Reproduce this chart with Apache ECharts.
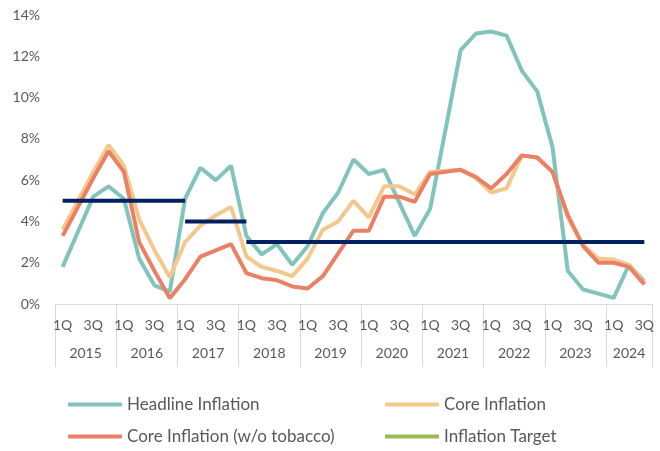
<!DOCTYPE html>
<html>
<head>
<meta charset="utf-8">
<script src="https://cdn.jsdelivr.net/npm/echarts@6/dist/echarts.min.js"></script>
<style>
  html, body { margin: 0; padding: 0; background: #fff; }
  #chart { width: 660px; height: 451px; }
</style>
</head>
<body>
<div id="chart"></div>
<script>
var years = ['2015','2016','2017','2018','2019','2020','2021','2022','2023','2024'];
var quarters = ['1Q','2Q','3Q','4Q'];
var quartersInYear = [4,4,4,4,4,4,4,4,4,3];

var headline = [1.8,3.5,5.2,5.7,5.1,2.2,0.9,0.6,5.1,6.6,6.0,6.7,
                3.3,2.4,2.9,1.9,2.8,4.4,5.4,7.0,6.3,6.5,4.9,3.3,
                4.6,8.4,12.3,13.1,13.2,13.0,11.3,10.3,7.6,1.6,0.7,0.5,
                0.3,1.9,1.1];
var core = [3.6,5.0,6.4,7.7,6.7,4.1,2.6,1.3,3.0,3.8,4.3,4.7,
            2.3,1.8,1.6,1.35,2.2,3.6,4.0,5.0,4.2,5.7,5.7,5.3,
            6.4,6.45,6.5,6.1,5.4,5.6,7.2,7.1,6.4,4.2,2.85,2.2,
            2.15,1.9,1.0];
var coreNoTobacco = [3.3,4.7,6.1,7.4,6.4,3.0,1.6,0.28,1.2,2.3,2.6,2.9,
                     1.5,1.25,1.15,0.85,0.75,1.35,2.45,3.55,3.55,5.2,5.2,4.95,
                     6.3,6.4,6.5,6.15,5.6,6.3,7.2,7.1,6.4,4.3,2.8,2.0,
                     2.0,1.8,0.95];
var target = [5,5,5,5,5,5,5,5,4,4,4,4,
              3,3,3,3,3,3,3,3,3,3,3,3,
              3,3,3,3,3,3,3,3,3,3,3,3,
              3,3,3];
var yTicks = [0,2,4,6,8,10,12,14];

// category labels
var categories = [];
years.forEach(function (y, k) {
  for (var q = 0; q < quartersInYear[k]; q++) categories.push(quarters[q]);
});
var yearStart = [];
var pos = 0;
quartersInYear.forEach(function (n) { yearStart.push(pos); pos += n; });

// target shown as flat segments, one per target level
var targetSeries = [];
var runStart = 0;
for (var i = 1; i <= target.length; i++) {
  if (i === target.length || target[i] !== target[runStart]) {
    var end = i === target.length ? i - 1 : i;
    var seg = target.map(function (v, j) { return (j >= runStart && j <= end) ? target[runStart] : null; });
    targetSeries.push({
      name: 'Inflation Target', type: 'line', data: seg, showSymbol: false,
      color: '#9BBB59', lineStyle: { color: '#002060', width: 4 }, z: 5
    });
    runStart = i;
  }
}

var gray = '#595959';
var font = 'Lato';

var myChart = echarts.init(document.getElementById('chart'));
myChart.setOption({
  animation: false,
  textStyle: { fontFamily: font },
  grid: { left: 55, right: 8, top: 15, bottom: 147 },
  legend: [
    { left: 68, top: 396, data: [{ name: 'Headline Inflation' }] },
    { left: 385, top: 396, data: [{ name: 'Core Inflation' }] },
    { left: 68, top: 428, data: [{ name: 'Core Inflation (w/o tobacco)' }] },
    { left: 385, top: 428, data: [{ name: 'Inflation Target', itemStyle: { color: '#9BBB59' } }] }
  ].map(function (l) {
    l.icon = 'roundRect';
    l.padding = 0;
    l.itemWidth = 54;
    l.itemHeight = 4;
    l.textStyle = { color: gray, fontSize: 17, fontFamily: font };
    return l;
  }),
  xAxis: [{
    type: 'category',
    data: categories,
    boundaryGap: true,
    axisLine: { show: true, lineStyle: { color: '#d9d9d9' } },
    axisTick: {
      show: true,
      alignWithLabel: false,
      length: 63,
      lineStyle: { color: '#d9d9d9', width: 1 },
      interval: function (idx) { return yearStart.indexOf(idx) >= 0 || idx >= categories.length; }
    },
    axisLabel: { interval: 1, color: gray, fontSize: 14, margin: 14 }
  }, {
    type: 'value',
    min: 0,
    max: categories.length,
    interval: 0.5,
    position: 'bottom',
    axisLine: { show: false },
    axisTick: { show: false },
    splitLine: { show: false },
    axisLabel: {
      color: gray, fontSize: 14, margin: 42,
      showMinLabel: true, showMaxLabel: true,
      formatter: function (v) {
        for (var k = 0; k < years.length; k++) {
          if (Math.abs(v - (yearStart[k] + quartersInYear[k] / 2)) < 0.01) return years[k];
        }
        return '';
      }
    }
  }],
  yAxis: {
    type: 'value',
    min: yTicks[0],
    max: yTicks[yTicks.length - 1],
    interval: 2,
    axisLine: { show: false },
    axisTick: { show: false },
    splitLine: { show: false },
    axisLabel: { color: gray, fontSize: 14, margin: 15, formatter: '{value}%' }
  },
  series: [
    { name: 'Headline Inflation', type: 'line', data: headline, showSymbol: false,
      color: '#80C4BC', lineStyle: { width: 4 }, z: 2 },
    { name: 'Core Inflation', type: 'line', data: core, showSymbol: false,
      color: '#F4C88C', lineStyle: { width: 4 }, z: 3 },
    { name: 'Core Inflation (w/o tobacco)', type: 'line', data: coreNoTobacco, showSymbol: false,
      color: '#EA8064', lineStyle: { width: 4 }, z: 4 }
  ].concat(targetSeries)
});
</script>
</body>
</html>
